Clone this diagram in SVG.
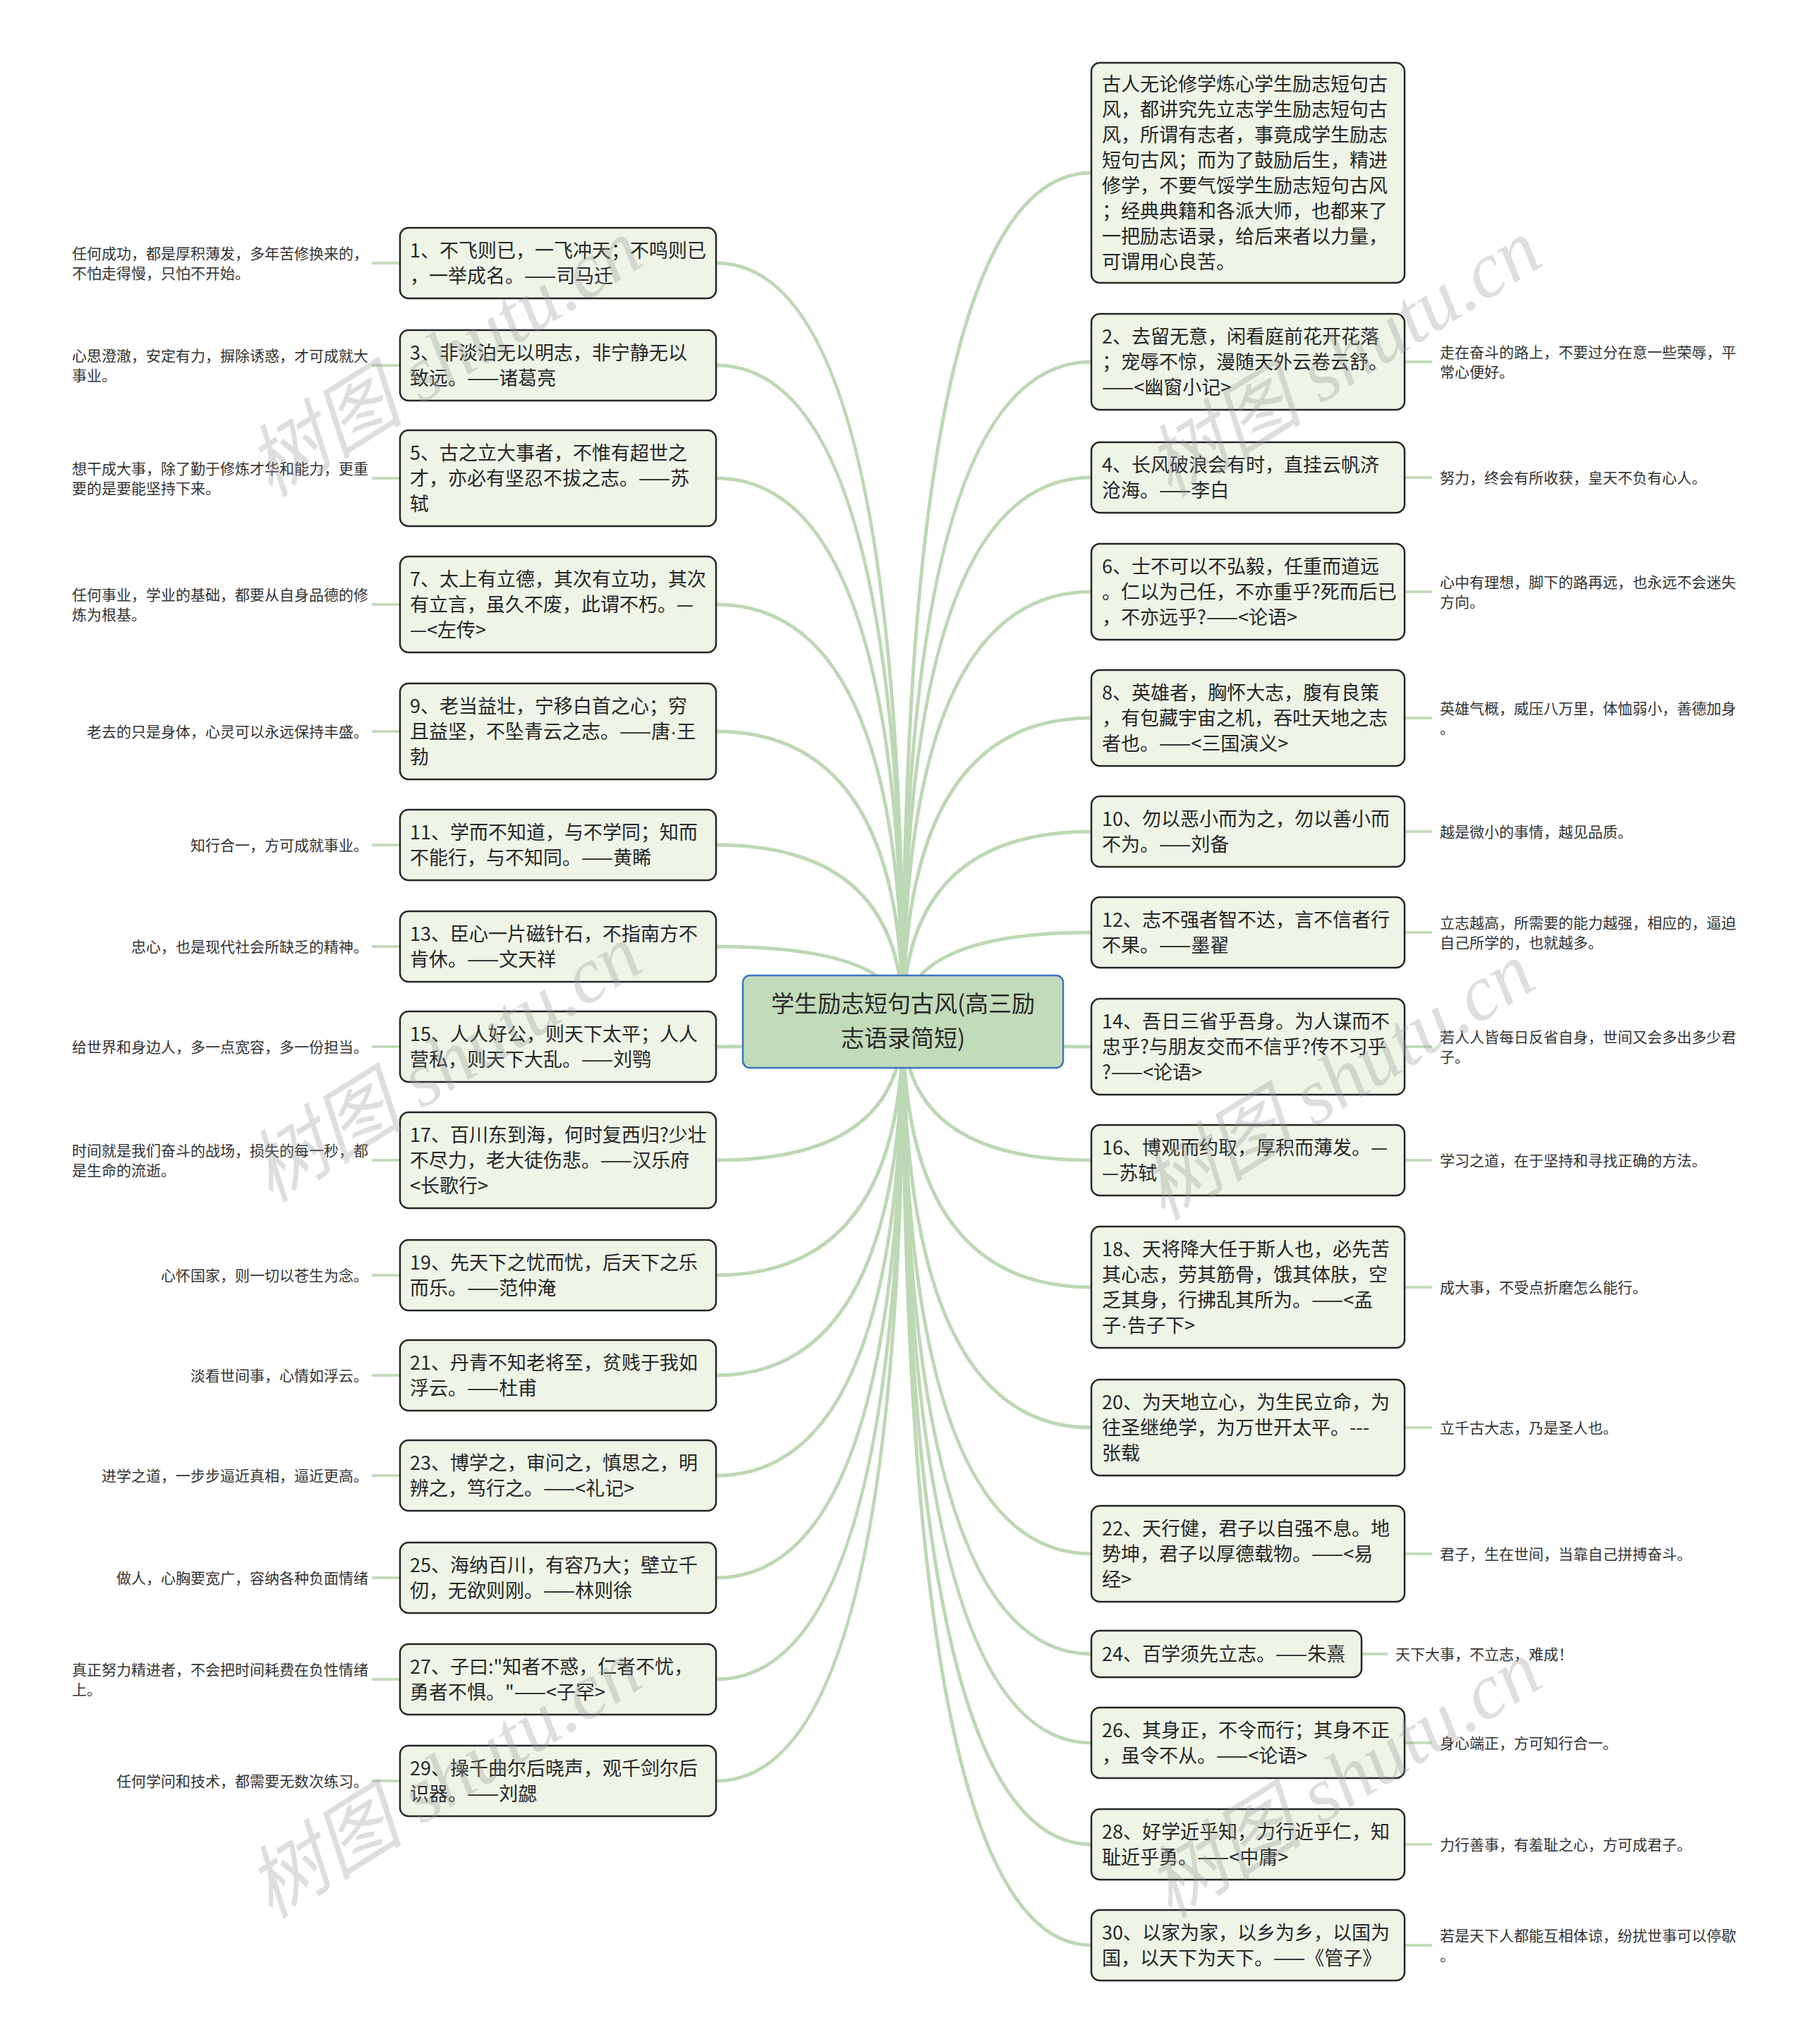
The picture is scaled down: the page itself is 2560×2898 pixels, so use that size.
<svg xmlns="http://www.w3.org/2000/svg" width="2560" height="2898" viewBox="0 0 2560 2898">
<style>
.bg{fill:#ffffff}
.c{fill:none;stroke:#bdd8b4;stroke-width:5}
.lc{fill:none;stroke:#c3dcbc;stroke-width:4}
.n{fill:#eef5e7;stroke:#262626;stroke-width:2.5}
.t{font-family:"Noto Sans CJK SC","Noto Sans",sans-serif;font-size:27px;fill:#262626}
.l{font-family:"Noto Sans CJK SC","Noto Sans",sans-serif;font-size:21px;fill:#333333}
.le{font-family:"Noto Sans CJK SC","Noto Sans",sans-serif;font-size:21px;fill:#333333;text-anchor:end}
.dot{font-family:"Liberation Sans",sans-serif}
.root{fill:#c2dbb9;stroke:#3b76c2;stroke-width:2.5}
.rt{font-family:"Noto Sans CJK SC","Noto Sans",sans-serif;font-size:33px;fill:#2a2a2a;text-anchor:middle}
.wm{font-family:"Liberation Serif","Noto Sans CJK SC",serif;font-style:italic;font-size:112px;fill:#9a9a9a;opacity:0.32;text-anchor:middle}
</style>
<rect class="bg" x="0" y="0" width="2560" height="2898"/>
<g id="connectors">
<path class="c" d="M1280,1448 Q1280,373 1015,373"/>
<path class="c" d="M1280,1448 Q1280,518 1015,518"/>
<path class="c" d="M1280,1448 Q1280,678 1015,678"/>
<path class="c" d="M1280,1448 Q1280,857 1015,857"/>
<path class="c" d="M1280,1448 Q1280,1037 1015,1037"/>
<path class="c" d="M1280,1448 Q1280,1198 1015,1198"/>
<path class="c" d="M1280,1448 Q1280,1342 1015,1342"/>
<path class="c" d="M1280,1448 Q1280,1484 1015,1484"/>
<path class="c" d="M1280,1448 Q1280,1645 1015,1645"/>
<path class="c" d="M1280,1448 Q1280,1808 1015,1808"/>
<path class="c" d="M1280,1448 Q1280,1950 1015,1950"/>
<path class="c" d="M1280,1448 Q1280,2092 1015,2092"/>
<path class="c" d="M1280,1448 Q1280,2237 1015,2237"/>
<path class="c" d="M1280,1448 Q1280,2381 1015,2381"/>
<path class="c" d="M1280,1448 Q1280,2525 1015,2525"/>
<path class="c" d="M1280,1448 Q1280,245 1547,245"/>
<path class="c" d="M1280,1448 Q1280,513 1547,513"/>
<path class="c" d="M1280,1448 Q1280,677 1547,677"/>
<path class="c" d="M1280,1448 Q1280,839 1547,839"/>
<path class="c" d="M1280,1448 Q1280,1018 1547,1018"/>
<path class="c" d="M1280,1448 Q1280,1179 1547,1179"/>
<path class="c" d="M1280,1448 Q1280,1322 1547,1322"/>
<path class="c" d="M1280,1448 Q1280,1484 1547,1484"/>
<path class="c" d="M1280,1448 Q1280,1645 1547,1645"/>
<path class="c" d="M1280,1448 Q1280,1825 1547,1825"/>
<path class="c" d="M1280,1448 Q1280,2024 1547,2024"/>
<path class="c" d="M1280,1448 Q1280,2203 1547,2203"/>
<path class="c" d="M1280,1448 Q1280,2345 1547,2345"/>
<path class="c" d="M1280,1448 Q1280,2471 1547,2471"/>
<path class="c" d="M1280,1448 Q1280,2615 1547,2615"/>
<path class="c" d="M1280,1448 Q1280,2758 1547,2758"/>
<path class="lc" d="M527,373 H567 M527,518 H567 M527,678 H567 M527,857 H567 M527,1037 H567 M527,1198 H567 M527,1342 H567 M527,1484 H567 M527,1645 H567 M527,1808 H567 M527,1950 H567 M527,2092 H567 M527,2237 H567 M527,2381 H567 M527,2525 H567"/>
<path class="lc" d="M1991,513 H2030 M1991,677 H2030 M1991,839 H2030 M1991,1018 H2030 M1991,1179 H2030 M1991,1322 H2030 M1991,1484 H2030 M1991,1645 H2030 M1991,1825 H2030 M1991,2024 H2030 M1991,2203 H2030 M1930,2345 H1967 M1991,2471 H2030 M1991,2615 H2030 M1991,2758 H2030"/>
</g>
<g id="root">
<rect class="root" x="1053" y="1383" width="454" height="131" rx="10"/>
<text class="rt"><tspan x="1280" y="1435">学生励志短句古风(高三励</tspan><tspan x="1280" y="1484">志语录简短)</tspan></text>
</g>
<g id="n1"><rect class="n" x="567" y="323" width="448" height="100" rx="12"/><text class="t"><tspan x="581" y="365">1、不飞则已，一飞冲天；不鸣则已</tspan><tspan x="581" y="401">，一举成名。——司马迁</tspan></text></g>
<g id="l1"><text class="l"><tspan x="102" y="367">任何成功，都是厚积薄发，多年苦修换来的，</tspan><tspan x="102" y="395">不怕走得慢，只怕不开始。</tspan></text></g>
<g id="n3"><rect class="n" x="567" y="468" width="448" height="100" rx="12"/><text class="t"><tspan x="581" y="510">3、非淡泊无以明志，非宁静无以</tspan><tspan x="581" y="546">致远。——诸葛亮</tspan></text></g>
<g id="l3"><text class="l"><tspan x="102" y="512">心思澄澈，安定有力，摒除诱惑，才可成就大</tspan><tspan x="102" y="540">事业。</tspan></text></g>
<g id="n5"><rect class="n" x="567" y="610" width="448" height="136" rx="12"/><text class="t"><tspan x="581" y="652">5、古之立大事者，不惟有超世之</tspan><tspan x="581" y="688">才，亦必有坚忍不拔之志。——苏</tspan><tspan x="581" y="724">轼</tspan></text></g>
<g id="l5"><text class="l"><tspan x="102" y="672">想干成大事，除了勤于修炼才华和能力，更重</tspan><tspan x="102" y="700">要的是要能坚持下来。</tspan></text></g>
<g id="n7"><rect class="n" x="567" y="789" width="448" height="136" rx="12"/><text class="t"><tspan x="581" y="831">7、太上有立德，其次有立功，其次</tspan><tspan x="581" y="867">有立言，虽久不废，此谓不朽。—</tspan><tspan x="581" y="903">—&lt;左传&gt;</tspan></text></g>
<g id="l7"><text class="l"><tspan x="102" y="851">任何事业，学业的基础，都要从自身品德的修</tspan><tspan x="102" y="879">炼为根基。</tspan></text></g>
<g id="n9"><rect class="n" x="567" y="969" width="448" height="136" rx="12"/><text class="t"><tspan x="581" y="1011">9、老当益壮，宁移白首之心；穷</tspan><tspan x="581" y="1047">且益坚，不坠青云之志。——唐<tspan class="dot">·</tspan>王</tspan><tspan x="581" y="1083">勃</tspan></text></g>
<g id="l9"><text class="le" x="522" y="1045">老去的只是身体，心灵可以永远保持丰盛。</text></g>
<g id="n11"><rect class="n" x="567" y="1148" width="448" height="100" rx="12"/><text class="t"><tspan x="581" y="1190">11、学而不知道，与不学同；知而</tspan><tspan x="581" y="1226">不能行，与不知同。——黄睎</tspan></text></g>
<g id="l11"><text class="le" x="522" y="1206">知行合一，方可成就事业。</text></g>
<g id="n13"><rect class="n" x="567" y="1292" width="448" height="100" rx="12"/><text class="t"><tspan x="581" y="1334">13、臣心一片磁针石，不指南方不</tspan><tspan x="581" y="1370">肯休。——文天祥</tspan></text></g>
<g id="l13"><text class="le" x="522" y="1350">忠心，也是现代社会所缺乏的精神。</text></g>
<g id="n15"><rect class="n" x="567" y="1434" width="448" height="100" rx="12"/><text class="t"><tspan x="581" y="1476">15、人人好公，则天下太平；人人</tspan><tspan x="581" y="1512">营私，则天下大乱。——刘鹗</tspan></text></g>
<g id="l15"><text class="le" x="522" y="1492">给世界和身边人，多一点宽容，多一份担当。</text></g>
<g id="n17"><rect class="n" x="567" y="1577" width="448" height="136" rx="12"/><text class="t"><tspan x="581" y="1619">17、百川东到海，何时复西归?少壮</tspan><tspan x="581" y="1655">不尽力，老大徒伤悲。——汉乐府</tspan><tspan x="581" y="1691">&lt;长歌行&gt;</tspan></text></g>
<g id="l17"><text class="l"><tspan x="102" y="1639">时间就是我们奋斗的战场，损失的每一秒，都</tspan><tspan x="102" y="1667">是生命的流逝。</tspan></text></g>
<g id="n19"><rect class="n" x="567" y="1758" width="448" height="100" rx="12"/><text class="t"><tspan x="581" y="1800">19、先天下之忧而忧，后天下之乐</tspan><tspan x="581" y="1836">而乐。——范仲淹</tspan></text></g>
<g id="l19"><text class="le" x="522" y="1816">心怀国家，则一切以苍生为念。</text></g>
<g id="n21"><rect class="n" x="567" y="1900" width="448" height="100" rx="12"/><text class="t"><tspan x="581" y="1942">21、丹青不知老将至，贫贱于我如</tspan><tspan x="581" y="1978">浮云。——杜甫</tspan></text></g>
<g id="l21"><text class="le" x="522" y="1958">淡看世间事，心情如浮云。</text></g>
<g id="n23"><rect class="n" x="567" y="2042" width="448" height="100" rx="12"/><text class="t"><tspan x="581" y="2084">23、博学之，审问之，慎思之，明</tspan><tspan x="581" y="2120">辨之，笃行之。——&lt;礼记&gt;</tspan></text></g>
<g id="l23"><text class="le" x="522" y="2100">进学之道，一步步逼近真相，逼近更高。</text></g>
<g id="n25"><rect class="n" x="567" y="2187" width="448" height="100" rx="12"/><text class="t"><tspan x="581" y="2229">25、海纳百川，有容乃大；壁立千</tspan><tspan x="581" y="2265">仞，无欲则刚。——林则徐</tspan></text></g>
<g id="l25"><text class="le" x="522" y="2245">做人，心胸要宽广，容纳各种负面情绪</text></g>
<g id="n27"><rect class="n" x="567" y="2331" width="448" height="100" rx="12"/><text class="t"><tspan x="581" y="2373">27、子曰:"知者不惑，仁者不忧，</tspan><tspan x="581" y="2409">勇者不惧。"——&lt;子罕&gt;</tspan></text></g>
<g id="l27"><text class="l"><tspan x="102" y="2375">真正努力精进者，不会把时间耗费在负性情绪</tspan><tspan x="102" y="2403">上。</tspan></text></g>
<g id="n29"><rect class="n" x="567" y="2475" width="448" height="100" rx="12"/><text class="t"><tspan x="581" y="2517">29、操千曲尔后晓声，观千剑尔后</tspan><tspan x="581" y="2553">识器。——刘勰</tspan></text></g>
<g id="l29"><text class="le" x="522" y="2533">任何学问和技术，都需要无数次练习。</text></g>
<g id="n0"><rect class="n" x="1547" y="89" width="444" height="312" rx="12"/><text class="t"><tspan x="1562" y="129">古人无论修学炼心学生励志短句古</tspan><tspan x="1562" y="165">风，都讲究先立志学生励志短句古</tspan><tspan x="1562" y="201">风，所谓有志者，事竟成学生励志</tspan><tspan x="1562" y="237">短句古风；而为了鼓励后生，精进</tspan><tspan x="1562" y="273">修学，不要气馁学生励志短句古风</tspan><tspan x="1562" y="309">；经典典籍和各派大师，也都来了</tspan><tspan x="1562" y="345">一把励志语录，给后来者以力量，</tspan><tspan x="1562" y="381">可谓用心良苦。</tspan></text></g>
<g id="n2"><rect class="n" x="1547" y="445" width="444" height="136" rx="12"/><text class="t"><tspan x="1562" y="487">2、去留无意，闲看庭前花开花落</tspan><tspan x="1562" y="523">；宠辱不惊，漫随天外云卷云舒。</tspan><tspan x="1562" y="559">——&lt;幽窗小记&gt;</tspan></text></g>
<g id="l2"><text class="l"><tspan x="2041" y="507">走在奋斗的路上，不要过分在意一些荣辱，平</tspan><tspan x="2041" y="535">常心便好。</tspan></text></g>
<g id="n4"><rect class="n" x="1547" y="627" width="444" height="100" rx="12"/><text class="t"><tspan x="1562" y="669">4、长风破浪会有时，直挂云帆济</tspan><tspan x="1562" y="705">沧海。——李白</tspan></text></g>
<g id="l4"><text class="l" x="2041" y="685">努力，终会有所收获，皇天不负有心人。</text></g>
<g id="n6"><rect class="n" x="1547" y="771" width="444" height="136" rx="12"/><text class="t"><tspan x="1562" y="813">6、士不可以不弘毅，任重而道远</tspan><tspan x="1562" y="849">。仁以为己任，不亦重乎?死而后已</tspan><tspan x="1562" y="885">，不亦远乎?——&lt;论语&gt;</tspan></text></g>
<g id="l6"><text class="l"><tspan x="2041" y="833">心中有理想，脚下的路再远，也永远不会迷失</tspan><tspan x="2041" y="861">方向。</tspan></text></g>
<g id="n8"><rect class="n" x="1547" y="950" width="444" height="136" rx="12"/><text class="t"><tspan x="1562" y="992">8、英雄者，胸怀大志，腹有良策</tspan><tspan x="1562" y="1028">，有包藏宇宙之机，吞吐天地之志</tspan><tspan x="1562" y="1064">者也。——&lt;三国演义&gt;</tspan></text></g>
<g id="l8"><text class="l"><tspan x="2041" y="1012">英雄气概，威压八万里，体恤弱小，善德加身</tspan><tspan x="2041" y="1040">。</tspan></text></g>
<g id="n10"><rect class="n" x="1547" y="1129" width="444" height="100" rx="12"/><text class="t"><tspan x="1562" y="1171">10、勿以恶小而为之，勿以善小而</tspan><tspan x="1562" y="1207">不为。——刘备</tspan></text></g>
<g id="l10"><text class="l" x="2041" y="1187">越是微小的事情，越见品质。</text></g>
<g id="n12"><rect class="n" x="1547" y="1272" width="444" height="100" rx="12"/><text class="t"><tspan x="1562" y="1314">12、志不强者智不达，言不信者行</tspan><tspan x="1562" y="1350">不果。——墨翟</tspan></text></g>
<g id="l12"><text class="l"><tspan x="2041" y="1316">立志越高，所需要的能力越强，相应的，逼迫</tspan><tspan x="2041" y="1344">自己所学的，也就越多。</tspan></text></g>
<g id="n14"><rect class="n" x="1547" y="1416" width="444" height="136" rx="12"/><text class="t"><tspan x="1562" y="1458">14、吾日三省乎吾身。为人谋而不</tspan><tspan x="1562" y="1494">忠乎?与朋友交而不信乎?传不习乎</tspan><tspan x="1562" y="1530">?——&lt;论语&gt;</tspan></text></g>
<g id="l14"><text class="l"><tspan x="2041" y="1478">若人人皆每日反省自身，世间又会多出多少君</tspan><tspan x="2041" y="1506">子。</tspan></text></g>
<g id="n16"><rect class="n" x="1547" y="1595" width="444" height="100" rx="12"/><text class="t"><tspan x="1562" y="1637">16、博观而约取，厚积而薄发。—</tspan><tspan x="1562" y="1673">—苏轼</tspan></text></g>
<g id="l16"><text class="l" x="2041" y="1653">学习之道，在于坚持和寻找正确的方法。</text></g>
<g id="n18"><rect class="n" x="1547" y="1739" width="444" height="172" rx="12"/><text class="t"><tspan x="1562" y="1781">18、天将降大任于斯人也，必先苦</tspan><tspan x="1562" y="1817">其心志，劳其筋骨，饿其体肤，空</tspan><tspan x="1562" y="1853">乏其身，行拂乱其所为。——&lt;孟</tspan><tspan x="1562" y="1889">子<tspan class="dot">·</tspan>告子下&gt;</tspan></text></g>
<g id="l18"><text class="l" x="2041" y="1833">成大事，不受点折磨怎么能行。</text></g>
<g id="n20"><rect class="n" x="1547" y="1956" width="444" height="136" rx="12"/><text class="t"><tspan x="1562" y="1998">20、为天地立心，为生民立命，为</tspan><tspan x="1562" y="2034">往圣继绝学，为万世开太平。---</tspan><tspan x="1562" y="2070">张载</tspan></text></g>
<g id="l20"><text class="l" x="2041" y="2032">立千古大志，乃是圣人也。</text></g>
<g id="n22"><rect class="n" x="1547" y="2135" width="444" height="136" rx="12"/><text class="t"><tspan x="1562" y="2177">22、天行健，君子以自强不息。地</tspan><tspan x="1562" y="2213">势坤，君子以厚德载物。——&lt;易</tspan><tspan x="1562" y="2249">经&gt;</tspan></text></g>
<g id="l22"><text class="l" x="2041" y="2211">君子，生在世间，当靠自己拼搏奋斗。</text></g>
<g id="n24"><rect class="n" x="1547" y="2312" width="383" height="66" rx="12"/><text class="t" x="1562" y="2355">24、百学须先立志。——朱熹</text></g>
<g id="l24"><text class="l" x="1978" y="2353">天下大事，不立志，难成！</text></g>
<g id="n26"><rect class="n" x="1547" y="2421" width="444" height="100" rx="12"/><text class="t"><tspan x="1562" y="2463">26、其身正，不令而行；其身不正</tspan><tspan x="1562" y="2499">，虽令不从。——&lt;论语&gt;</tspan></text></g>
<g id="l26"><text class="l" x="2041" y="2479">身心端正，方可知行合一。</text></g>
<g id="n28"><rect class="n" x="1547" y="2565" width="444" height="100" rx="12"/><text class="t"><tspan x="1562" y="2607">28、好学近乎知，力行近乎仁，知</tspan><tspan x="1562" y="2643">耻近乎勇。——&lt;中庸&gt;</tspan></text></g>
<g id="l28"><text class="l" x="2041" y="2623">力行善事，有羞耻之心，方可成君子。</text></g>
<g id="n30"><rect class="n" x="1547" y="2708" width="444" height="100" rx="12"/><text class="t"><tspan x="1562" y="2750">30、以家为家，以乡为乡，以国为</tspan><tspan x="1562" y="2786">国，以天下为天下。——《管子》</tspan></text></g>
<g id="l30"><text class="l"><tspan x="2041" y="2752">若是天下人都能互相体谅，纷扰世事可以停歇</tspan><tspan x="2041" y="2780">。</tspan></text></g>
<g id="watermarks">
<text class="wm" transform="translate(650,540) rotate(-32)">树图 shutu.cn</text>
<text class="wm" transform="translate(650,1540) rotate(-32)">树图 shutu.cn</text>
<text class="wm" transform="translate(650,2555) rotate(-32)">树图 shutu.cn</text>
<text class="wm" transform="translate(1925,540) rotate(-32)">树图 shutu.cn</text>
<text class="wm" transform="translate(1915,1565) rotate(-32)">树图 shutu.cn</text>
<text class="wm" transform="translate(1925,2555) rotate(-32)">树图 shutu.cn</text>
</g>
</svg>
